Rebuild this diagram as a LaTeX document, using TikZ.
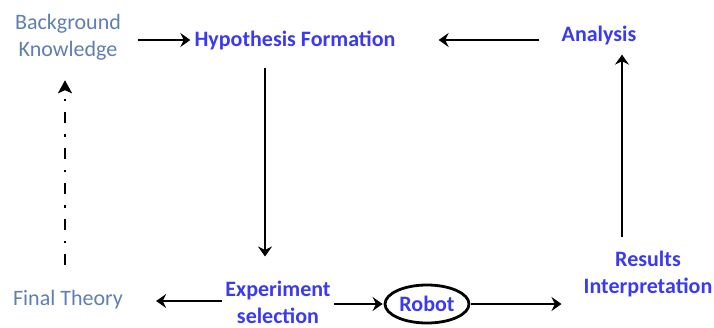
\documentclass[tikz,border=0pt]{standalone}
\usepackage{fontspec}
\setmainfont{Carlito}
\usetikzlibrary{arrows.meta,shapes.geometric}
\definecolor{stepblue}{HTML}{3A3AF0}
\definecolor{slate}{HTML}{5F7FAE}
\begin{document}
\begin{tikzpicture}[x=1pt,y=-1pt,
  every node/.style={font=\fontsize{22}{27}\selectfont, align=center, inner sep=2pt},
  stage/.style={text=stepblue, font=\fontsize{22}{27}\selectfont\bfseries},
  given/.style={text=slate},
  link/.style={draw=black, line width=2.8pt, -{Stealth[length=10pt,width=14pt,inset=3.5pt]}},
  backlink/.style={draw=black, line width=2.8pt, dash pattern=on 11pt off 11pt on 2.5pt off 11pt,
    -{Stealth[length=13pt,width=14pt,inset=3pt]}}]
  \useasboundingbox (0,0) rectangle (714,327);

  % stages of the cycle
  \node[given] (bk) at (68,37) {Background\\Knowledge};
  \node[stage] (hf) at (295,40) {Hypothesis Formation};
  \node[stage] (an) at (599,36) {Analysis};
  \node[given] (ft) at (68,300) {Final Theory};
  \node[stage] (ex) at (278,302) {Experiment\\selection};
  \node[stage, ellipse, draw=black, line width=2.8pt, inner sep=1pt, minimum width=84pt, minimum height=38pt] (rb) at (427,304) {Robot};
  \node[stage] (ri) at (648,274) {Results\\Interpretation};

  % connectors
  \draw[link, shorten <=15pt, shorten >=2pt] (bk.east |- hf.west) -- (hf.west);
  \draw[link, shorten <=20pt, shorten >=41pt] (an.west |- hf.east) -- (hf.east);
  \draw[link, shorten <=16pt, shorten >=22pt] ([xshift=-30pt]hf.south) -- ([xshift=-13pt]ex.north);
  \draw[link, shorten <=12pt, shorten >=7pt] ([xshift=-26pt]ri.north) -- ([xshift=23pt]an.south);
  \draw[link, shorten <=1pt, shorten >=31pt] ([yshift=1pt]ex.west) -- ([yshift=1pt]ex.west -| ft.east);
  \draw[link, shorten <=1pt, shorten >=1pt] (ex.east |- rb.west) -- (rb.west);
  \draw[link, shorten <=1pt, shorten >=20pt] (rb.east) -- (ri.south west |- rb.east);
  \draw[backlink, shorten <=23pt, shorten >=18pt] ([xshift=-3pt]ft.north) -- ([xshift=-3pt]bk.south);
\end{tikzpicture}
\end{document}
